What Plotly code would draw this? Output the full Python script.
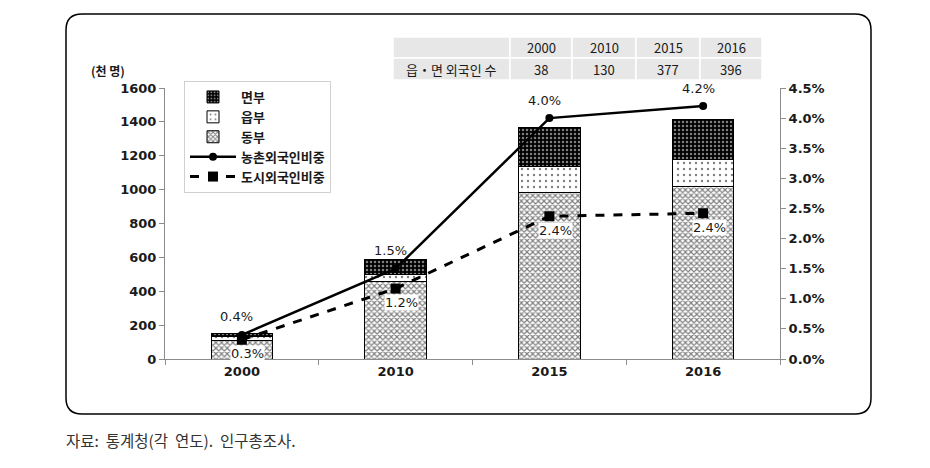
import plotly.graph_objects as go

years = ["2000", "2010", "2015", "2016"]
dong = [112, 460, 986, 1021]      # 동부
eup = [18, 41, 148, 154]          # 읍부
myeon = [20, 89, 230, 242]        # 면부
rural_pct = [0.4, 1.5, 4.0, 4.2]  # 농촌외국인비중
urban_pct = [0.32, 1.17, 2.37, 2.42]  # 도시외국인비중
table_years = ["2000", "2010", "2015", "2016"]
table_counts = ["38", "130", "377", "396"]
table_label = "읍・면 외국인 수"

OFF = 8
W, H = 930 - 2 * OFF, 468 - 2 * OFF
L, R, T, B = 165, 780, 88, 359


def px(x):
    return (x - L) / (R - L)


def py(y):
    return (B - y) / (B - T)


FONT = "DejaVu Sans, Noto Sans CJK KR, sans-serif"
KFONT = "Noto Sans CJK KR, DejaVu Sans, sans-serif"

fig = go.Figure()

fig.add_trace(go.Bar(
    x=years, y=dong, name="동부", legendrank=3, width=0.4,
    marker=dict(color="white", line=dict(color="black", width=1),
                pattern=dict(shape="x", fgcolor="black", bgcolor="white", size=4, solidity=0.5)),
))
fig.add_trace(go.Bar(
    x=years, y=eup, name="읍부", legendrank=2, width=0.4,
    marker=dict(color="white", line=dict(color="black", width=1),
                pattern=dict(shape=".", fgcolor="black", bgcolor="white", size=6, solidity=0.12)),
))
fig.add_trace(go.Bar(
    x=years, y=myeon, name="면부", legendrank=1, width=0.4,
    marker=dict(color="black", line=dict(color="black", width=1),
                pattern=dict(shape=".", fgcolor="white", bgcolor="black", size=4, solidity=0.3)),
))
fig.add_trace(go.Scatter(
    x=years, y=rural_pct, name="농촌외국인비중", legendrank=4, yaxis="y2",
    mode="lines+markers", line=dict(color="black", width=2.5),
    marker=dict(symbol="circle", size=8, color="black"),
))
fig.add_trace(go.Scatter(
    x=years, y=urban_pct, name="도시외국인비중", legendrank=5, yaxis="y2",
    mode="lines+markers", line=dict(color="black", width=3, dash="dash"),
    marker=dict(symbol="square", size=10, color="black"),
))

annotations = []
for i, v in enumerate(rural_pct):
    annotations.append(dict(x=i, y=v, xref="x", yref="y2", text=f"{v:.1f}%",
                            showarrow=False, yshift=18, xshift=-5,
                            xanchor="center", yanchor="middle",
                            font=dict(family=FONT, size=13, color="#1a1a1a")))
for i, v in enumerate(urban_pct):
    annotations.append(dict(x=i, y=v, xref="x", yref="y2", text=f"{v:.1f}%",
                            showarrow=False, yshift=-14, xshift=6, bgcolor="white",
                            borderpad=0, xanchor="center", yanchor="middle",
                            font=dict(family=FONT, size=13, color="#1a1a1a")))

annotations.append(dict(x=px(108), y=py(71), xref="paper", yref="paper", text="(천 명)",
                        xanchor="center", yanchor="middle",
                        showarrow=False, font=dict(family=KFONT, size=12, color="#1a1a1a", weight="bold")))
annotations.append(dict(x=px(64), y=py(440), xref="paper", yref="paper",
                        text="자료:&nbsp; 통계청(각&nbsp; 연도).&nbsp; 인구총조사.", xanchor="left", yanchor="middle",
                        showarrow=False, font=dict(family=KFONT, size=15.5, color="#333333")))

# table
shapes = []
col_edges = [393, 510, 572, 636, 700, 762]
row_edges = [37, 58, 80]
for ri in range(2):
    for ci in range(5):
        shapes.append(dict(type="rect", xref="paper", yref="paper",
                           x0=px(col_edges[ci]), x1=px(col_edges[ci + 1]),
                           y0=py(row_edges[ri]), y1=py(row_edges[ri + 1]),
                           fillcolor="#e7e7e7", line=dict(color="white", width=1.5), layer="below"))
row_texts = [[""] + table_years, [table_label] + table_counts]
for ri, row in enumerate(row_texts):
    for ci, t in enumerate(row):
        if not t:
            continue
        annotations.append(dict(x=px((col_edges[ci] + col_edges[ci + 1]) / 2),
                                y=py((row_edges[ri] + row_edges[ri + 1]) / 2),
                                xref="paper", yref="paper", text=t, showarrow=False,
                                xanchor="center", yanchor="middle",
                                font=dict(family=KFONT, size=13, color="#1a1a1a")))

# rounded outer border
x0, x1, y0, y1, r = 66, 871, 14, 414, 16
path = (f"M {px(x0 + r)},{py(y0)} L {px(x1 - r)},{py(y0)} Q {px(x1)},{py(y0)} {px(x1)},{py(y0 + r)} "
        f"L {px(x1)},{py(y1 - r)} Q {px(x1)},{py(y1)} {px(x1 - r)},{py(y1)} "
        f"L {px(x0 + r)},{py(y1)} Q {px(x0)},{py(y1)} {px(x0)},{py(y1 - r)} "
        f"L {px(x0)},{py(y0 + r)} Q {px(x0)},{py(y0)} {px(x0 + r)},{py(y0)} Z")
shapes.append(dict(type="path", xref="paper", yref="paper", path=path,
                   line=dict(color="black", width=1.5)))

fig.update_layout(
    width=W, height=H,
    margin=dict(l=L - OFF, r=W - (R - OFF), t=T - OFF, b=H - (B - OFF), pad=0, autoexpand=False),
    paper_bgcolor="white", plot_bgcolor="white",
    barmode="stack", bargap=0.6,
    showlegend=True,
    legend=dict(x=px(184), y=py(81), xanchor="left", yanchor="top",
                bgcolor="white", bordercolor="#d0d0d0", borderwidth=1,
                font=dict(family=KFONT, size=13, color="#1a1a1a", weight="bold"),
                tracegroupgap=0, itemwidth=46, traceorder="normal"),
    xaxis=dict(type="category", range=[-0.5, 3.5], autorange=False, automargin=False,
               showline=True, linecolor="#8c8c8c", linewidth=1, tickangle=0,
               ticks="outside", tickson="boundaries", ticklen=5, tickcolor="#8c8c8c",
               tickfont=dict(family=FONT, size=13, color="#1a1a1a", weight="bold"),
               showgrid=False, zeroline=False),
    yaxis=dict(range=[0, 1600], autorange=False, automargin=False, dtick=200,
               showline=True, linecolor="#8c8c8c", linewidth=1,
               ticks="outside", ticklen=5, tickcolor="#8c8c8c", showgrid=False, zeroline=False,
               tickfont=dict(family=FONT, size=13, color="#1a1a1a", weight="bold")),
    yaxis2=dict(range=[0, 4.5], autorange=False, automargin=False, dtick=0.5, tickformat=".1f",
                ticksuffix="%", overlaying="y",
                side="right", showline=True, linecolor="#8c8c8c", linewidth=1,
                ticks="outside", ticklen=5, tickcolor="#8c8c8c", showgrid=False, zeroline=False,
                tickfont=dict(family=FONT, size=13, color="#1a1a1a", weight="bold")),
    annotations=annotations,
    shapes=shapes,
)

fig.write_html("out.html")
